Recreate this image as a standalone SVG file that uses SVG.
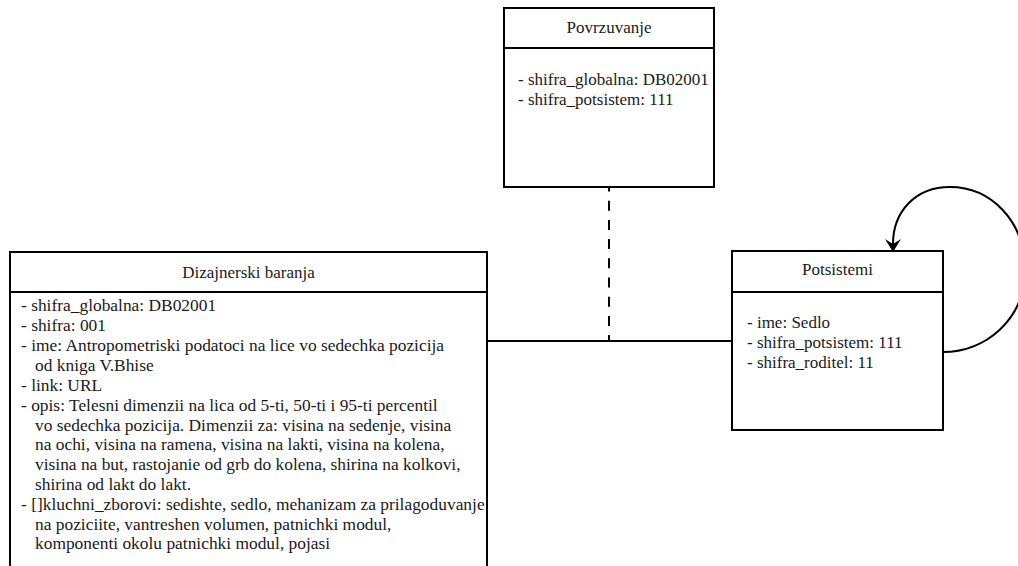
<svg xmlns="http://www.w3.org/2000/svg" width="1018" height="566" viewBox="0 0 1018 566" font-family="'Liberation Serif', 'DejaVu Serif', serif" font-size="17">
  <style>
    .box { fill: #ffffff; stroke: #000000; stroke-width: 2; }
    .sep { stroke: #000000; stroke-width: 2; }
    .edge { fill: none; stroke: #000000; stroke-width: 2; }
    .dashed { stroke-dasharray: 10 9.2; stroke-dashoffset: 5.5; }
    .label { font-family: 'Liberation Serif', 'DejaVu Serif', serif; font-size: 17px; fill: #1a1a1a; }
    .wide { font-size: 17.4px; }
    .title { text-anchor: middle; }
  </style>
  <defs>
    <marker id="arrow" markerUnits="userSpaceOnUse" viewBox="0 0 13 16" markerWidth="13" markerHeight="16" refX="5" refY="8" orient="auto">
      <path d="M0 0 L13 8 L0 16 L5 8 Z" fill="#000000"/>
    </marker>
  </defs>

  <rect width="1018" height="566" fill="#ffffff"/>

  <!-- connectors -->
  <g id="connectors">
    <line class="edge" x1="487" y1="341" x2="732" y2="341"/>
    <line class="edge dashed" x1="609" y1="187" x2="609" y2="341"/>
    <path class="edge" d="M943 352 C985 352 1025 320 1025 270 C1025 220 990 187 950 187 C915 187 893 212 893 244" marker-end="url(#arrow)"/>
  </g>

  <!-- Povrzuvanje -->
  <g id="povrzuvanje" class="label">
    <rect class="box" x="504" y="8" width="210" height="179"/>
    <line class="sep" x1="504" y1="48" x2="714" y2="48"/>
    <text class="title" x="609" y="33">Povrzuvanje</text>
    <text x="518" y="85">- shifra_globalna: DB02001</text>
    <text x="518" y="105">- shifra_potsistem: 111</text>
  </g>

  <!-- Potsistemi -->
  <g id="potsistemi" class="label">
    <rect class="box" x="732" y="251" width="211" height="179"/>
    <line class="sep" x1="732" y1="292" x2="943" y2="292"/>
    <text class="title" x="837.5" y="275">Potsistemi</text>
    <text x="747" y="328">- ime: Sedlo</text>
    <text x="747" y="348">- shifra_potsistem: 111</text>
    <text x="747" y="368">- shifra_roditel: 11</text>
  </g>

  <!-- Dizajnerski baranja -->
  <g id="dizajnerski-baranja" class="label">
    <rect class="box" x="10" y="252" width="477" height="340"/>
    <line class="sep" x1="10" y1="292" x2="487" y2="292"/>
    <text class="title" x="248.5" y="278">Dizajnerski baranja</text>
    <g class="wide">
      <text x="21" y="311">- shifra_globalna: DB02001</text>
      <text x="21" y="331">- shifra: 001</text>
      <text x="21" y="351">- ime: Antropometriski podatoci na lice vo sedechka pozicija</text>
      <text x="35" y="371">od kniga V.Bhise</text>
      <text x="21" y="391">- link: URL</text>
      <text x="21" y="411">- opis: Telesni dimenzii na lica od 5-ti, 50-ti i 95-ti percentil</text>
      <text x="35" y="431">vo sedechka pozicija. Dimenzii za: visina na sedenje, visina</text>
      <text x="35" y="450">na ochi, visina na ramena, visina na lakti, visina na kolena,</text>
      <text x="35" y="470">visina na but, rastojanie od grb do kolena, shirina na kolkovi,</text>
      <text x="35" y="490">shirina od lakt do lakt.</text>
      <text x="21" y="510">- []kluchni_zborovi: sedishte, sedlo, mehanizam za prilagoduvanje</text>
      <text x="35" y="530">na poziciite, vantreshen volumen, patnichki modul,</text>
      <text x="35" y="549">komponenti okolu patnichki modul, pojasi</text>
    </g>
  </g>
</svg>
